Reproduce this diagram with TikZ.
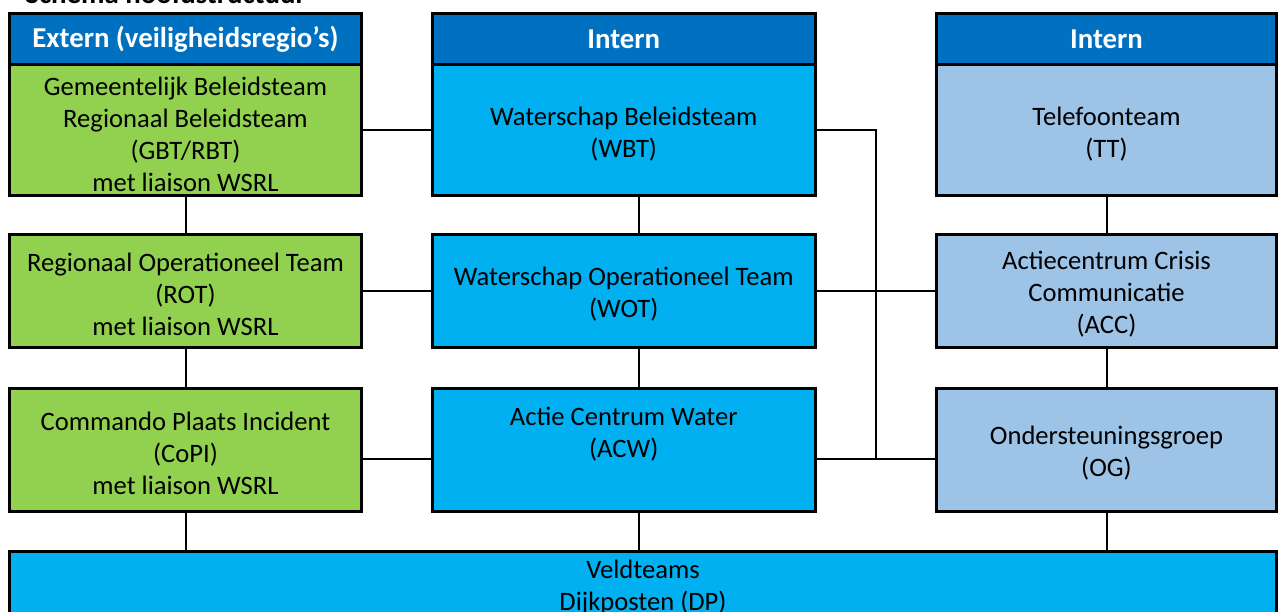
\documentclass[tikz,border=0pt]{standalone}
\usepackage{fontspec}
\setmainfont{Carlito}
\definecolor{hdr}{HTML}{0070C0}
\definecolor{grn}{HTML}{92D050}
\definecolor{cyn}{HTML}{00B0F0}
\definecolor{lbl}{HTML}{9DC3E6}
\newcommand{\lift}{\rule{0pt}{25.5pt}}
\begin{document}
\begin{tikzpicture}[x=1pt,y=-1pt,
  box/.style={draw=black,line width=3pt,inner sep=0pt,align=center,font=\fontsize{26.6}{32}\selectfont,text=black},
  hd/.style={draw=black,line width=3pt,inner sep=0pt,align=center,fill=hdr,text=white,font=\fontsize{28.8}{32}\selectfont\bfseries,minimum height=51.5pt},
  colL/.style={minimum width=352pt},
  colM/.style={minimum width=382.5pt},
  colR/.style={minimum width=340pt},
  conn/.style={line width=2pt}]
\useasboundingbox (0,0) rectangle (1280,612);
\node[anchor=base west,font=\fontsize{28.8}{32}\selectfont\bfseries] (title) at (22,4) {Schema hoofdstructuur};
% headers
\node[hd,colL] (h1) at (185.5,39.25) {Extern (veiligheidsregio’s)};
\node[hd,colM] (h2) at (623.75,39.25) {Intern};
\node[hd,colR] (h3) at (1106.5,39.25) {Intern};
% left column
\node[box,colL,fill=grn,minimum height=131pt] (gbt) at (185.5,130.5) {\lift Gemeentelijk Beleidsteam\\Regionaal Beleidsteam\\(GBT/RBT)\\met liaison WSRL};
\node[box,colL,fill=grn,minimum height=113pt] (rot) at (185.5,291) {\lift Regionaal Operationeel Team\\(ROT)\\met liaison WSRL};
\node[box,colL,fill=grn,minimum height=123.5pt] (copi) at (185.5,449.75) {\lift Commando Plaats Incident\\(CoPI)\\met liaison WSRL};
% middle column
\node[box,colM,fill=cyn,minimum height=131pt] (wbt) at (623.75,130.5) {\lift Waterschap Beleidsteam\\(WBT)};
\node[box,colM,fill=cyn,minimum height=113pt] (wot) at (623.75,291) {\lift Waterschap Operationeel Team\\(WOT)};
\node[box,colM,fill=cyn,minimum height=123.5pt] (acw) at (623.75,449.75) {\lift Actie Centrum Water\\(ACW)\\\strut};
% right column
\node[box,colR,fill=lbl,minimum height=131pt] (tt) at (1106.5,130.5) {\lift Telefoonteam\\(TT)};
\node[box,colR,fill=lbl,minimum height=113pt] (acc) at (1106.5,291) {\lift Actiecentrum Crisis\\Communicatie\\(ACC)};
\node[box,colR,fill=lbl,minimum height=123.5pt] (og) at (1106.5,449.75) {\lift Ondersteuningsgroep\\(OG)};
% bottom
\node[box,fill=cyn,minimum width=1267pt,minimum height=68.5pt] (veld) at (643,585.75) {\rule{0pt}{23pt}Veldteams\\Dijkposten (DP)};
% connectors
\coordinate (j1) at (876,459);
\draw[conn] (gbt.east) -- (wbt.west);
\draw[conn] (rot.east) -- (rot.east -| wot.west);
\draw[conn] ([yshift=-9pt]copi.east) -- ([yshift=-9pt]copi.east -| acw.west);
\draw[conn] (wot.east) -- (wot.east -| acc.west);
\draw[conn] ([yshift=-9pt]acw.east) -- ([yshift=-9pt]acw.east -| og.west);
\draw[conn] (wbt.east) -| (j1);
\draw[conn] (gbt.south) -- (rot.north);
\draw[conn] (rot.south) -- (copi.north);
\draw[conn] (copi.south) -- (copi.south |- veld.north);
\draw[conn] ([xshift=15pt]wbt.south) -- ([xshift=15pt]wbt.south |- wot.north);
\draw[conn] ([xshift=15pt]wot.south) -- ([xshift=15pt]wot.south |- acw.north);
\draw[conn] ([xshift=15pt]acw.south) -- ([xshift=15pt]acw.south |- veld.north);
\draw[conn] (tt.south) -- (acc.north);
\draw[conn] (acc.south) -- (og.north);
\draw[conn] (og.south) -- (og.south |- veld.north);
\end{tikzpicture}
\end{document}
